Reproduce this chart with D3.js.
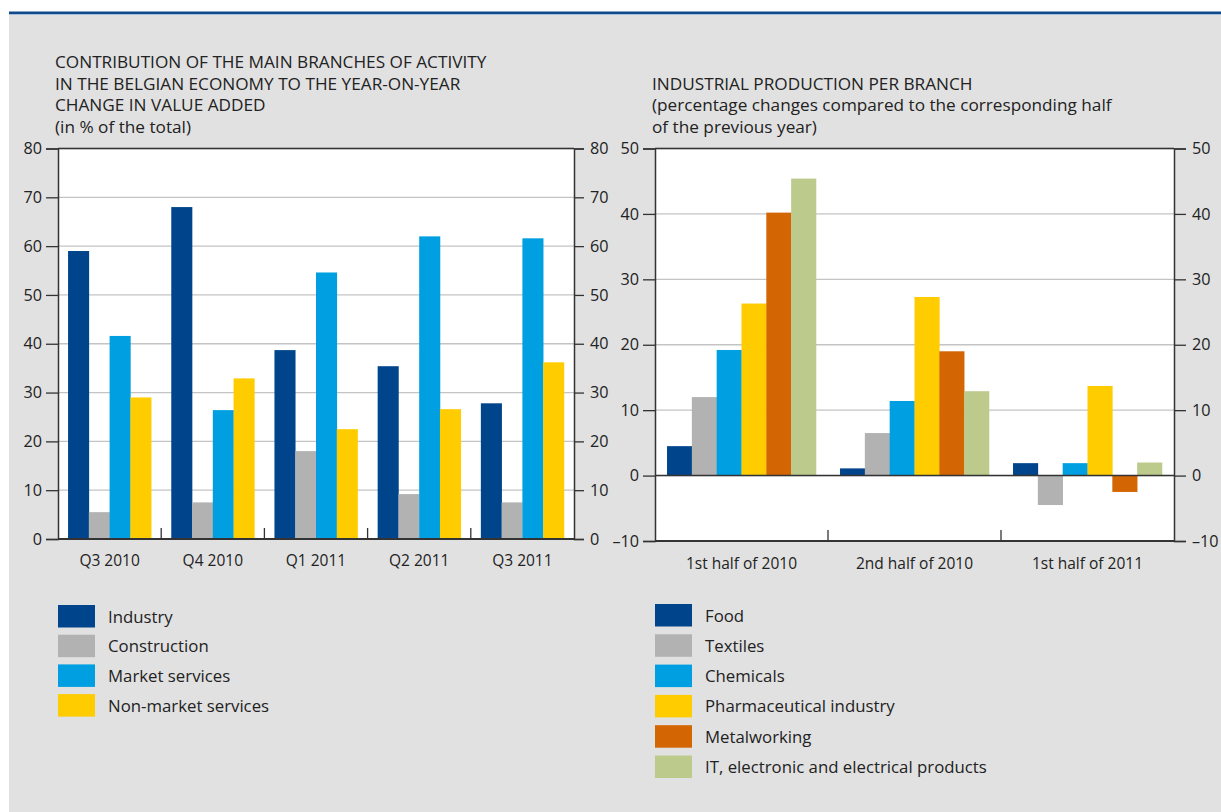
<!DOCTYPE html>
<html>
<head>
<meta charset="utf-8">
<script src="https://cdn.jsdelivr.net/npm/d3@7"></script>
<style>
  html, body { margin: 0; padding: 0; background: #ffffff; }
  svg { display: block; font-family: "Open Sans", "Noto Sans", sans-serif; }
</style>
</head>
<body>
<svg id="chart" width="1221" height="812"></svg>
<script>
// ---- Left panel: contribution to year-on-year change in value added (% of total)
const quarters = ["Q3 2010", "Q4 2010", "Q1 2011", "Q2 2011", "Q3 2011"];
const activityBranches = ["Industry", "Construction", "Market services", "Non-market services"];
const industry = [59.0, 68.0, 38.7, 35.4, 27.8];
const construction = [5.5, 7.5, 18.0, 9.2, 7.5];
const marketServices = [41.6, 26.4, 54.6, 62.0, 61.6];
const nonMarketServices = [29.0, 32.9, 22.5, 26.6, 36.2];
const contributionTicks = [0, 10, 20, 30, 40, 50, 60, 70, 80];
const contributionTitle = [
  "CONTRIBUTION OF THE MAIN BRANCHES OF ACTIVITY",
  "IN THE BELGIAN ECONOMY TO THE YEAR-ON-YEAR",
  "CHANGE IN VALUE ADDED",
  "(in % of the total)"
];

// ---- Right panel: industrial production per branch (% change vs same half a year earlier)
const halves = ["1st half of 2010", "2nd half of 2010", "1st half of 2011"];
const industrialBranches = ["Food", "Textiles", "Chemicals", "Pharmaceutical industry",
  "Metalworking", "IT, electronic and electrical products"];
const food = [4.5, 1.1, 1.9];
const textiles = [12.0, 6.5, -4.5];
const chemicals = [19.2, 11.4, 1.9];
const pharmaceuticals = [26.3, 27.3, 13.7];
const metalworking = [40.2, 19.0, -2.5];
const itProducts = [45.4, 12.9, 2.0];
const productionTicks = [-10, 0, 10, 20, 30, 40, 50];
const productionTitle = [
  "INDUSTRIAL PRODUCTION PER BRANCH",
  "(percentage changes compared to the corresponding half",
  "of the previous year)"
];

const palette = {
  darkBlue: "#00458b",
  grey: "#b2b2b2",
  cyan: "#009fe2",
  yellow: "#ffcc00",
  orange: "#d46503",
  green: "#bccb8c"
};
const textColor = "#222222";
const frameColor = "#333333";
const gridColor = "#c4c4c4";

const svg = d3.select("#chart");

// page background and top rule
svg.append("rect").attr("x", 9).attr("y", 14).attr("width", 1221 - 9).attr("height", 812 - 14)
  .attr("fill", "#e1e1e1");
svg.append("rect").attr("x", 9).attr("y", 11.5).attr("width", 1221 - 9).attr("height", 2.5)
  .attr("fill", "#0f4a8c");
svg.append("rect").attr("x", 9).attr("y", 14).attr("width", 1221 - 9).attr("height", 1)
  .attr("fill", "#a9bfd8");

const fmt = v => v < 0 ? "\u2013" + Math.abs(v) : String(v);

function drawPanel(opt) {
  const g = svg.append("g");
  const { left, right, top, bottom } = opt.box;

  const x0 = d3.scaleBand().domain(opt.categories).range([left, right])
    .paddingInner(opt.padding).paddingOuter(opt.padding / 2);
  const x1 = d3.scaleBand().domain(opt.seriesNames).range([0, x0.bandwidth()]);
  const y = d3.scaleLinear().domain(opt.domain).range([bottom, top]);

  // plot background
  g.append("rect").attr("x", left).attr("y", top).attr("width", right - left)
    .attr("height", bottom - top).attr("fill", "#ffffff");

  // gridlines
  g.append("g").selectAll("line").data(opt.ticks).join("line")
    .attr("x1", left).attr("x2", right)
    .attr("y1", d => y(d)).attr("y2", d => y(d))
    .attr("stroke", gridColor).attr("stroke-width", 1.3);

  // bars
  const rows = opt.categories.map((c, i) => ({
    cat: c,
    values: opt.series.map((s, j) => ({ name: opt.seriesNames[j], value: s[i], color: opt.colors[j] }))
  }));
  const grp = g.append("g").selectAll("g").data(rows).join("g")
    .attr("transform", d => `translate(${x0(d.cat)},0)`);
  grp.selectAll("rect").data(d => d.values).join("rect")
    .attr("x", d => x1(d.name))
    .attr("width", x1.bandwidth() + 0.3)
    .attr("y", d => y(Math.max(0, d.value)))
    .attr("height", d => Math.abs(y(d.value) - y(0)))
    .attr("fill", d => d.color);

  // zero line (when the axis does not start at zero)
  if (opt.domain[0] < 0) {
    g.append("line").attr("x1", left).attr("x2", right)
      .attr("y1", y(0)).attr("y2", y(0))
      .attr("stroke", frameColor).attr("stroke-width", 1.5);
  }

  // left axis
  const leftAxis = g.append("g").attr("transform", `translate(${left},0)`)
    .call(d3.axisLeft(y).tickValues(opt.ticks).tickFormat(fmt).tickSize(opt.tickLeft).tickPadding(4));
  // right axis
  const rightAxis = g.append("g").attr("transform", `translate(${right},0)`)
    .call(d3.axisRight(y).tickValues(opt.ticks).tickFormat(fmt).tickSize(opt.tickRight).tickPadding(6));
  [leftAxis, rightAxis].forEach(a => {
    a.select(".domain").attr("stroke", frameColor).attr("stroke-width", 1.5);
    a.selectAll(".tick line").attr("stroke", frameColor).attr("stroke-width", 1.3);
    a.selectAll(".tick text").attr("fill", textColor).attr("font-size", 16.2)
      .style("font-family", "'Open Sans', sans-serif");
  });

  // top and bottom frame
  g.append("line").attr("x1", left).attr("x2", right).attr("y1", top).attr("y2", top)
    .attr("stroke", frameColor).attr("stroke-width", 1.5);
  g.append("line").attr("x1", left).attr("x2", right).attr("y1", bottom).attr("y2", bottom)
    .attr("stroke", frameColor).attr("stroke-width", 1.8);

  // category separators and labels
  const seps = opt.categories.slice(1).map(c => x0(c) - x0.step() * opt.padding / 2);
  g.append("g").selectAll("line").data(seps).join("line")
    .attr("x1", d => d).attr("x2", d => d)
    .attr("y1", bottom).attr("y2", bottom - 11)
    .attr("stroke", frameColor).attr("stroke-width", 1.3);
  g.append("g").selectAll("text").data(opt.categories).join("text")
    .attr("x", d => x0(d) + x0.bandwidth() / 2)
    .attr("y", opt.labelY)
    .attr("text-anchor", "middle")
    .attr("font-size", 15.5)
    .attr("fill", textColor)
    .text(d => d);

  // title
  g.append("g").selectAll("text").data(opt.title).join("text")
    .attr("x", left - 3)
    .attr("y", (d, i) => opt.titleY + i * 21.5)
    .attr("font-size", 17.2)
    .attr("fill", textColor)
    .text(d => d);

  // legend
  const leg = g.append("g").selectAll("g").data(opt.seriesNames).join("g")
    .attr("transform", (d, i) => `translate(${left},${opt.legendY + i * opt.legendStep})`);
  leg.append("rect").attr("width", 37).attr("height", 22.5)
    .attr("fill", (d, i) => opt.colors[i]);
  leg.append("text").attr("x", 50).attr("y", 17.5)
    .attr("font-size", 16.8).attr("fill", textColor)
    .text(d => d);
}

drawPanel({
  box: { left: 58, right: 574, top: 148.5, bottom: 539 },
  categories: quarters,
  seriesNames: activityBranches,
  series: [industry, construction, marketServices, nonMarketServices],
  colors: [palette.darkBlue, palette.grey, palette.cyan, palette.yellow],
  domain: [0, 80],
  ticks: contributionTicks,
  padding: 0.195,
  tickLeft: 12,
  tickRight: 10,
  labelY: 566,
  title: contributionTitle,
  titleY: 68,
  legendY: 605,
  legendStep: 29.7
});

drawPanel({
  box: { left: 655, right: 1174, top: 148.5, bottom: 541 },
  categories: halves,
  seriesNames: industrialBranches,
  series: [food, textiles, chemicals, pharmaceuticals, metalworking, itProducts],
  colors: [palette.darkBlue, palette.grey, palette.cyan, palette.yellow, palette.orange, palette.green],
  domain: [-10, 50],
  ticks: productionTicks,
  padding: 0.139,
  tickLeft: 12,
  tickRight: 12,
  labelY: 569,
  title: productionTitle,
  titleY: 89.5,
  legendY: 604,
  legendStep: 30.3
});
</script>
</body>
</html>
